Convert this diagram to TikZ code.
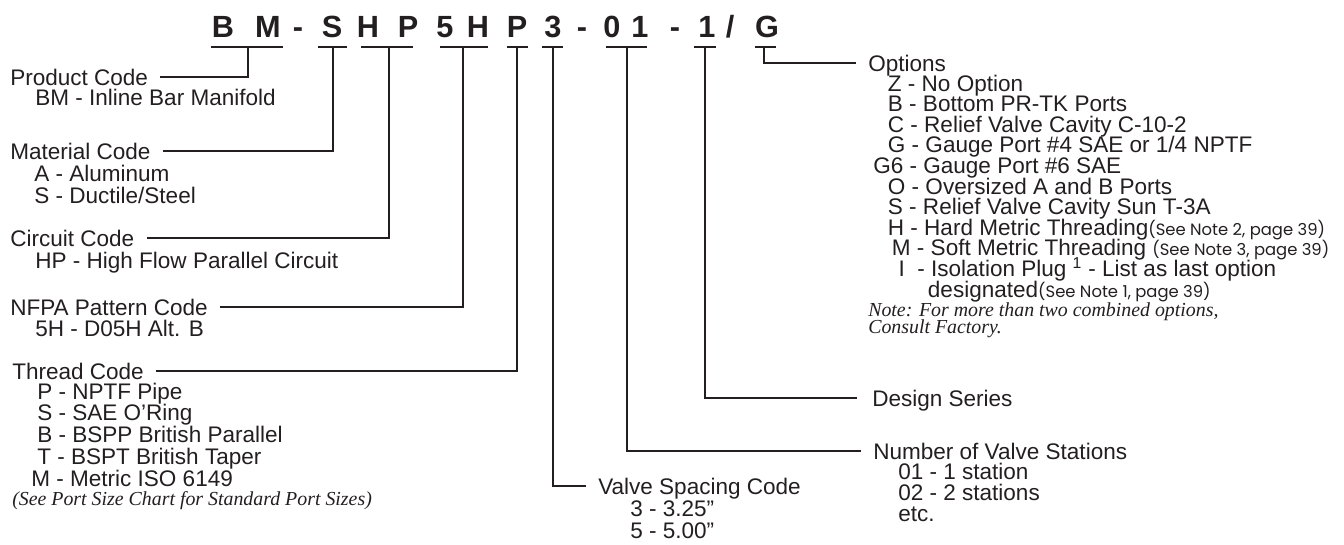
\documentclass[tikz,border=0pt]{standalone}
\usepackage{fontspec}
\setmainfont{Liberation Sans}
\newfontfamily\notefont{Poppins}
\newfontfamily\remfont{Liberation Serif}
\definecolor{ink}{HTML}{231F20}
\newcommand\seenote{\notefont\fontsize{12.3}{12}\selectfont}

\begin{document}
\begin{tikzpicture}[
    x=0.75pt, y=-0.75pt,
    every node/.style={inner sep=0pt, text=ink},
    code/.style={font=\fontsize{23}{23}\selectfont\bfseries, anchor=base},
    head/.style={font=\fontsize{16.9}{17.2}\selectfont, anchor=base west,
      text height=12pt, text depth=0pt},
    % multi-line nodes: placed at the baseline of their last line
    list/.style={font={\fontsize{16.9}{#1}\selectfont\lineskiplimit=-20pt},
      anchor=base west, align=left},
    list/.default=16.3pt,
    remark/.style={font={\remfont\itshape\fontsize{14.9}{#1}\selectfont\lineskiplimit=-20pt},
      anchor=base west, align=left},
    remark/.default=14pt,
    uline/.style={draw=ink, line width=1pt},
    link/.style={draw=ink, line width=0.9pt}
  ]
    \useasboundingbox (0,0) rectangle (1344,544);

    % model code
    \foreach \n/\x/\c in {cB/223/B, cM/268/M, d1/298/-, cS/332/S, cH/368/H, cP/408/P,
        c5/445/5, cH2/478/H, cP2/517/P, c3/553/3, d2/582/-, c0/612/0, c1/640/1,
        d3/675/-, cD/707/1, cG/767/G}
      \node[code] (\n) at (\x,37) {\c};
    \node[code] (slash) at (730,37) {/};

    % underlines
    \foreach \n/\a/\b/\m in {BM/211/283/248, S/318/347/333, HP/361/413/389,
        5H/440/488/463, P/507/528/517, 3/542/563/553, 01/606/647/627,
        1/694/716/705, G/755/776/764} {
      \draw[uline] (\a,47) -- (\b,47);
      \coordinate (u\n) at (\m,47);
    }

    % left column
    \node[head] (prodT) at (10,85) {Product Code};
    \node[list] (prodL) at (35,105) {BM - Inline Bar Manifold};
    \node[head] (matT) at (10,159) {Material Code};
    \node[list] (matL) at (34,203) {A - Aluminum\\S - Ductile/Steel};
    \node[head] (circT) at (10,246) {Circuit Code};
    \node[list] (circL) at (35,268) {HP - High Flow Parallel Circuit};
    \node[head] (nfpaT) at (10,315) {NFPA Pattern Code};
    \node[list] (nfpaL) at (35,336) {5H - D05H Alt. B};
    \node[head] (thrT) at (12,379) {Thread Code};
    \node[list] (thrL) at (31,486) {\hspace*{4.5pt}P - NPTF Pipe\\
      \hspace*{4.5pt}S - SAE O’Ring\\
      \hspace*{4.5pt}B - BSPP British Parallel\\
      \hspace*{4.5pt}T - BSPT British Taper\\
      M - Metric ISO 6149};
    \node[remark] (thrN) at (12,505) {(See Port Size Chart for Standard Port Sizes)};

    % right column
    \node[head] (optT) at (868,71) {Options};
    \node[list=15.45pt] (optL) at (873,297) {\hspace*{11pt}Z - No Option\\
      \hspace*{11pt}B - Bottom PR-TK Ports\\
      \hspace*{11pt}C - Relief Valve Cavity C-10-2\\
      \hspace*{11pt}G - Gauge Port \#4 SAE or 1/4 NPTF\\
      G6 - Gauge Port \#6 SAE\\
      \hspace*{11pt}O - Oversized A and B Ports\\
      \hspace*{11pt}S - Relief Valve Cavity Sun T-3A\\
      \hspace*{11pt}H - Hard Metric Threading{\seenote(See Note 2, page 39)}\\
      \hspace*{14pt}M - Soft Metric Threading {\seenote(See Note 3, page 39)}\\
      \hspace*{19pt}I\ \ - Isolation Plug \textsuperscript{1} - List as last option\\
      \hspace*{41pt}designated{\seenote(See Note 1, page 39)}};
    \node[remark=12.75pt] (optN) at (868,333) {Note: For more than two combined options,\\
      Consult Factory.};
    \node[head] (desT) at (872,406) {Design Series};
    \node[head] (numT) at (873,459) {Number of Valve Stations};
    \node[list=15.5pt] (numL) at (898,521) {01 - 1 station\\02 - 2 stations\\etc.};
    \node[head] (vscT) at (598,494) {Valve Spacing Code};
    \node[list=16.5pt] (vscL) at (630,538) {3 - 3.25”\\5 - 5.00”};

    % connectors
    \draw[link] (uBM) |- ([xshift=9pt]prodT.east);
    \draw[link] (uS) |- ([xshift=9pt]matT.east);
    \draw[link] (uHP) |- ([xshift=9pt]circT.east);
    \draw[link] (u5H) |- ([xshift=9pt]nfpaT.east);
    \draw[link] (uP) |- ([xshift=9pt]thrT.east);
    \draw[link] (u3) |- ([xshift=-9pt]vscT.west);
    \draw[link] (u01) |- ([xshift=-9pt]numT.west);
    \draw[link] (u1) |- ([xshift=-11pt]desT.west);
    \draw[link] (uG) |- ([xshift=-9pt]optT.west);
  \end{tikzpicture}
\end{document}
